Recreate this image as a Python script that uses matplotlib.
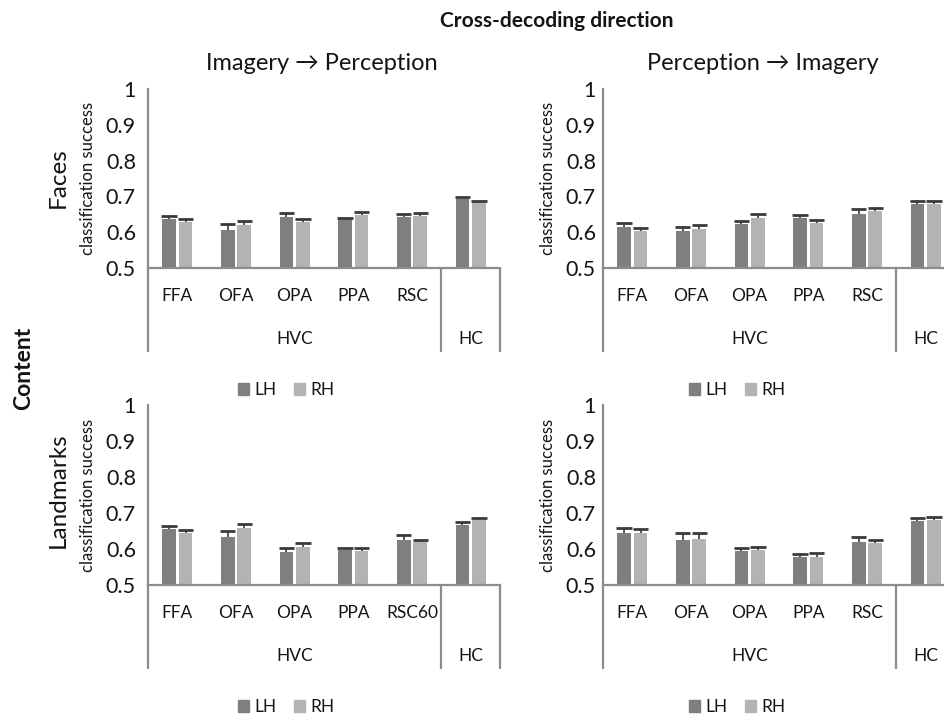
import matplotlib
matplotlib.use("Agg")
import matplotlib.pyplot as plt
from matplotlib.patches import Patch
from matplotlib.transforms import blended_transform_factory

plt.rcParams['font.family'] = ['Lato', 'DejaVu Sans']

# ---------------- data ----------------
categories = ["FFA", "OFA", "OPA", "PPA", "RSC", ""]
categories_lm_ip = ["FFA", "OFA", "OPA", "PPA", "RSC60", ""]
groups = ["HVC", "HC"]
series_names = ["LH", "RH"]
yticks = [0.5, 0.6, 0.7, 0.8, 0.9, 1.0]
ytick_labels = ["0.5", "0.6", "0.7", "0.8", "0.9", "1"]

# Faces, Imagery -> Perception
faces_ip_lh = [0.636, 0.607, 0.643, 0.636, 0.643, 0.692]
faces_ip_lh_err = [0.009, 0.016, 0.010, 0.005, 0.009, 0.007]
faces_ip_rh = [0.629, 0.619, 0.629, 0.649, 0.646, 0.682]
faces_ip_rh_err = [0.008, 0.012, 0.007, 0.007, 0.009, 0.004]

# Faces, Perception -> Imagery
faces_pi_lh = [0.615, 0.604, 0.623, 0.640, 0.650, 0.680]
faces_pi_lh_err = [0.011, 0.010, 0.008, 0.009, 0.014, 0.008]
faces_pi_rh = [0.604, 0.608, 0.641, 0.626, 0.658, 0.678]
faces_pi_rh_err = [0.007, 0.013, 0.011, 0.008, 0.010, 0.008]

# Landmarks, Imagery -> Perception
land_ip_lh = [0.655, 0.634, 0.592, 0.597, 0.624, 0.668]
land_ip_lh_err = [0.009, 0.016, 0.010, 0.007, 0.014, 0.007]
land_ip_rh = [0.645, 0.658, 0.606, 0.595, 0.620, 0.681]
land_ip_rh_err = [0.008, 0.012, 0.012, 0.007, 0.006, 0.006]

# Landmarks, Perception -> Imagery
land_pi_lh = [0.645, 0.625, 0.594, 0.577, 0.620, 0.679]
land_pi_lh_err = [0.012, 0.019, 0.008, 0.009, 0.014, 0.006]
land_pi_rh = [0.644, 0.628, 0.597, 0.579, 0.616, 0.681]
land_pi_rh_err = [0.011, 0.016, 0.009, 0.009, 0.009, 0.007]

# ---------------- style ----------------
W, H = 945, 715
LH_COLOR = "#7f7f7f"
RH_COLOR = "#b3b3b3"
ERR_COLOR = "#3a3a3a"
AX_COLOR = "#8c8c8c"
TXT = "#141414"

fig = plt.figure(figsize=(W / 100, H / 100), dpi=100)


def fx(px):
    return px / W


def fy(py):
    return 1 - py / H


def make_panel(x0, ybase, ytop, width, lh, lh_err, rh, rh_err, cats,
               tick_pad_px, legend_cx):
    h_px = ybase - ytop
    ax = fig.add_axes([fx(x0), fy(ybase), width / W, h_px / H])
    n = len(cats)
    xs = list(range(n))
    bw = 0.23
    off = 0.14
    xl = [x - off for x in xs]
    xr = [x + off for x in xs]
    ax.bar(xl, lh, width=bw, color=LH_COLOR, zorder=2)
    ax.bar(xr, rh, width=bw, color=RH_COLOR, zorder=2)
    for xpos, vals, errs in ((xl, lh, lh_err), (xr, rh, rh_err)):
        tops = [v + e for v, e in zip(vals, errs)]
        ax.vlines(xpos, vals, tops, color=ERR_COLOR, lw=1.2, zorder=3)
        ax.hlines(tops, [x - 0.13 for x in xpos], [x + 0.13 for x in xpos],
                  color=ERR_COLOR, lw=2.0, zorder=3)
    ax.set_xlim(-0.5, n - 0.5)
    ax.set_ylim(0.5, 1.0)
    ax.set_yticks(yticks)
    ax.set_yticklabels(ytick_labels)
    ax.tick_params(axis='y', length=0, labelsize=15.5, pad=tick_pad_px * 0.72,
                   labelcolor=TXT)
    ax.set_xticks([])
    for s in ("top", "right"):
        ax.spines[s].set_visible(False)
    for s in ("left", "bottom"):
        ax.spines[s].set_color(AX_COLOR)
        ax.spines[s].set_linewidth(1.6)
    ax.patch.set_alpha(0)

    tr = blended_transform_factory(ax.transData, ax.transAxes)
    depth = 84 / h_px
    for xv in (-0.5, n - 1.5, n - 0.5):
        ax.plot([xv, xv], [0, -depth], transform=tr, clip_on=False,
                color=AX_COLOR, lw=1.6, solid_capstyle='butt')
    for i, c in enumerate(cats):
        if c:
            ax.annotate(c, xy=(i, 0), xycoords=tr, xytext=(0, -28 * 0.72),
                        textcoords='offset points', ha='center', va='center',
                        fontsize=12.5, color=TXT)
    ax.annotate(groups[0], xy=((n - 2) / 2, 0), xycoords=tr,
                xytext=(0, -71 * 0.72), textcoords='offset points',
                ha='center', va='center', fontsize=12.5, color=TXT)
    ax.annotate(groups[1], xy=(n - 1, 0), xycoords=tr,
                xytext=(0, -71 * 0.72), textcoords='offset points',
                ha='center', va='center', fontsize=12.5, color=TXT)

    handles = [Patch(color=LH_COLOR), Patch(color=RH_COLOR)]
    ax.legend(handles, series_names, loc='center',
              bbox_to_anchor=(fx(legend_cx), fy(ybase + 122)),
              bbox_transform=fig.transFigure, ncol=2, frameon=False,
              handlelength=0.65, handleheight=0.65, handletextpad=0.3,
              columnspacing=1.0, fontsize=12.5, labelcolor=TXT)
    return ax


make_panel(148, 268, 89, 352, faces_ip_lh, faces_ip_lh_err, faces_ip_rh,
           faces_ip_rh_err, categories, 12, 286)
make_panel(603, 268, 89, 352, faces_pi_lh, faces_pi_lh_err, faces_pi_rh,
           faces_pi_rh_err, categories, 7, 737)
make_panel(148, 585, 405, 352, land_ip_lh, land_ip_lh_err, land_ip_rh,
           land_ip_rh_err, categories_lm_ip, 12, 286)
make_panel(603, 585, 405, 352, land_pi_lh, land_pi_lh_err, land_pi_rh,
           land_pi_rh_err, categories, 7, 737)

# titles and labels
fig.text(fx(557), fy(21), "Cross-decoding direction", ha='center',
         va='center', fontsize=15, fontweight='bold', color=TXT)
fig.text(fx(322), fy(63), "Imagery \u2192 Perception", ha='center',
         va='center', fontsize=17, color=TXT)
fig.text(fx(763), fy(63), "Perception \u2192 Imagery", ha='center',
         va='center', fontsize=17, color=TXT)
fig.text(fx(24), fy(368), "Content", ha='center', va='center', rotation=90,
         fontsize=16.5, fontweight='bold', color=TXT)
fig.text(fx(58), fy(178), "Faces", ha='center', va='center', rotation=90,
         fontsize=17.5, color=TXT)
fig.text(fx(58), fy(490), "Landmarks", ha='center', va='center', rotation=90,
         fontsize=17.5, color=TXT)
for xl_ in (88, 548):
    for yc in (178, 495):
        fig.text(fx(xl_), fy(yc), "classification success", ha='center',
                 va='center', rotation=90, fontsize=12, color=TXT)

fig.savefig("out.png", dpi=100, facecolor="white")
